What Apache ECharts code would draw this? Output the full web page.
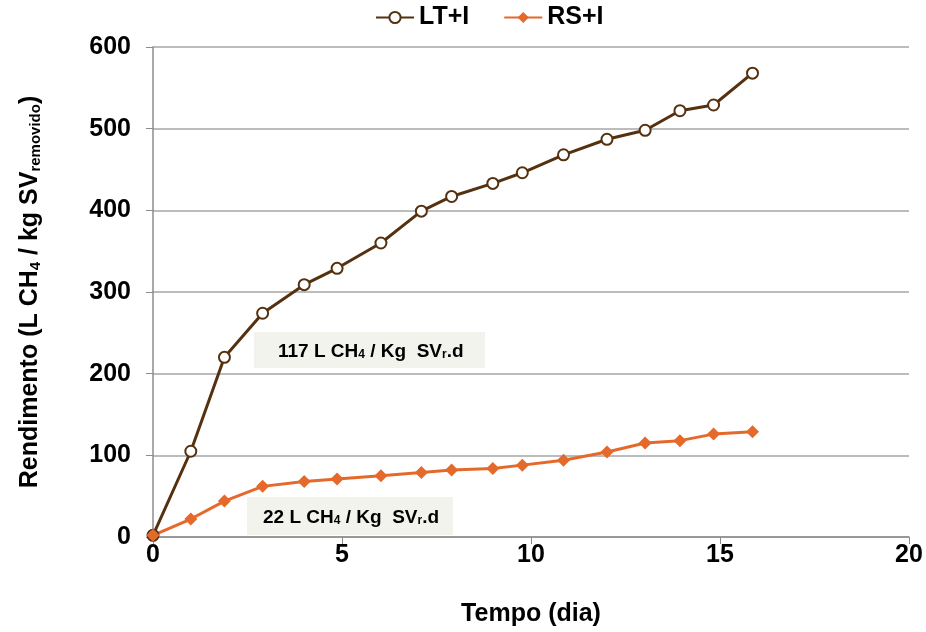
<!DOCTYPE html>
<html><head><meta charset="utf-8">
<script src="https://cdn.jsdelivr.net/npm/echarts@6/dist/echarts.min.js"></script>
<style>html,body{margin:0;padding:0;background:#fff}#c{width:926px;height:632px}</style>
</head><body><div id="c"></div>
<script>
const days = [0, 1.0, 1.89, 2.9, 4.0, 4.87, 6.03, 7.1, 7.9, 8.99, 9.77, 10.86, 12.01, 13.02, 13.94, 14.83, 15.86];
const ltI = [2, 105, 220, 274, 309, 329, 360, 399, 417, 433, 446, 468, 487, 498, 522, 529, 568];
const rsI = [2, 22, 44, 62, 68, 71, 75, 79, 82, 84, 88, 94, 104, 115, 118, 126, 129];
const seriesNames = ['LT+I', 'RS+I'];
const xTicks = {min: 0, max: 20, interval: 5};
const yTicks = {min: 0, max: 600, interval: 100};

const chart = echarts.init(document.getElementById('c'));
const font = 'Liberation Sans, Arial, sans-serif';
const brown = '#553110';
const orange = '#e5692a';
chart.setOption({
  animation: false,
  textStyle: {fontFamily: font},
  grid: {left: 153, right: 17, top: 47, bottom: 95, containLabel: false},
  legend: {
    top: 5, left: 375, padding: 0, itemWidth: 38, itemHeight: 14, itemGap: 34,
    textStyle: {fontSize: 25, fontWeight: 'bold', color: '#000', fontFamily: font},
    data: seriesNames
  },
  xAxis: {
    type: 'value', min: xTicks.min, max: xTicks.max, interval: xTicks.interval,
    name: 'Tempo (dia)', nameLocation: 'middle', nameGap: 65,
    nameTextStyle: {fontSize: 25, fontWeight: 'bold', color: '#000', fontFamily: font},
    axisLine: {show: true, lineStyle: {color: '#8c8c8c', width: 1.5}},
    axisTick: {show: true, length: 7, lineStyle: {color: '#8c8c8c'}},
    axisLabel: {fontSize: 25, fontWeight: 'bold', color: '#000', margin: 6, fontFamily: font},
    splitLine: {show: false}
  },
  yAxis: {
    type: 'value', min: yTicks.min, max: yTicks.max, interval: yTicks.interval,
    name: '{m|Rendimento (L CH}{s|4}{m| / kg SV}{s|removido}{m|)}',
    nameLocation: 'middle', nameGap: 110, nameRotate: 90,
    nameTextStyle: {
      rich: {
        m: {fontSize: 25, fontWeight: 'bold', color: '#000', lineHeight: 32, verticalAlign: 'bottom', fontFamily: font},
        s: {fontSize: 15, fontWeight: 'bold', color: '#000', lineHeight: 23, verticalAlign: 'bottom', fontFamily: font}
      }
    },
    axisLine: {show: true, lineStyle: {color: '#8c8c8c', width: 1.5}},
    axisTick: {show: true, length: 7, lineStyle: {color: '#8c8c8c'}},
    axisLabel: {fontSize: 25, fontWeight: 'bold', color: '#000', margin: 22, fontFamily: font},
    splitLine: {show: true, lineStyle: {color: '#a6a6a6', width: 1.5}}
  },
  series: [
    {
      name: seriesNames[0], type: 'line', data: days.map((d, i) => [d, ltI[i]]),
      symbol: 'emptyCircle', symbolSize: 11, showAllSymbol: true,
      lineStyle: {color: brown, width: 3},
      itemStyle: {color: brown, borderColor: brown, borderWidth: 2.5}
    },
    {
      name: seriesNames[1], type: 'line', data: days.map((d, i) => [d, rsI[i]]),
      symbol: 'diamond', symbolSize: 13, showAllSymbol: true,
      lineStyle: {color: orange, width: 3},
      itemStyle: {color: orange}
    }
  ],
  graphic: [
    {
      type: 'text', left: 254, top: 332, z: 100,
      style: {
        text: '{a|117 L CH}{b|4}{a| / Kg  SV}{b|r}{a|.d}',
        backgroundColor: '#f3f3ee', padding: [7, 0, 7, 24], width: 207,
        rich: {
          a: {fontSize: 19, fontWeight: 'bold', color: '#1a1a1a', fontFamily: font, lineHeight: 22, verticalAlign: 'bottom'},
          b: {fontSize: 12, fontWeight: 'bold', color: '#1a1a1a', fontFamily: font, lineHeight: 16, verticalAlign: 'bottom'}
        }
      }
    },
    {
      type: 'text', left: 247, top: 497, z: 100,
      style: {
        text: '{a|22 L CH}{b|4}{a| / Kg  SV}{b|r}{a|.d}',
        backgroundColor: '#f3f3ee', padding: [8, 0, 8, 16], width: 190,
        rich: {
          a: {fontSize: 19, fontWeight: 'bold', color: '#1a1a1a', fontFamily: font, lineHeight: 22, verticalAlign: 'bottom'},
          b: {fontSize: 12, fontWeight: 'bold', color: '#1a1a1a', fontFamily: font, lineHeight: 16, verticalAlign: 'bottom'}
        }
      }
    }
  ]
});
</script></body></html>
